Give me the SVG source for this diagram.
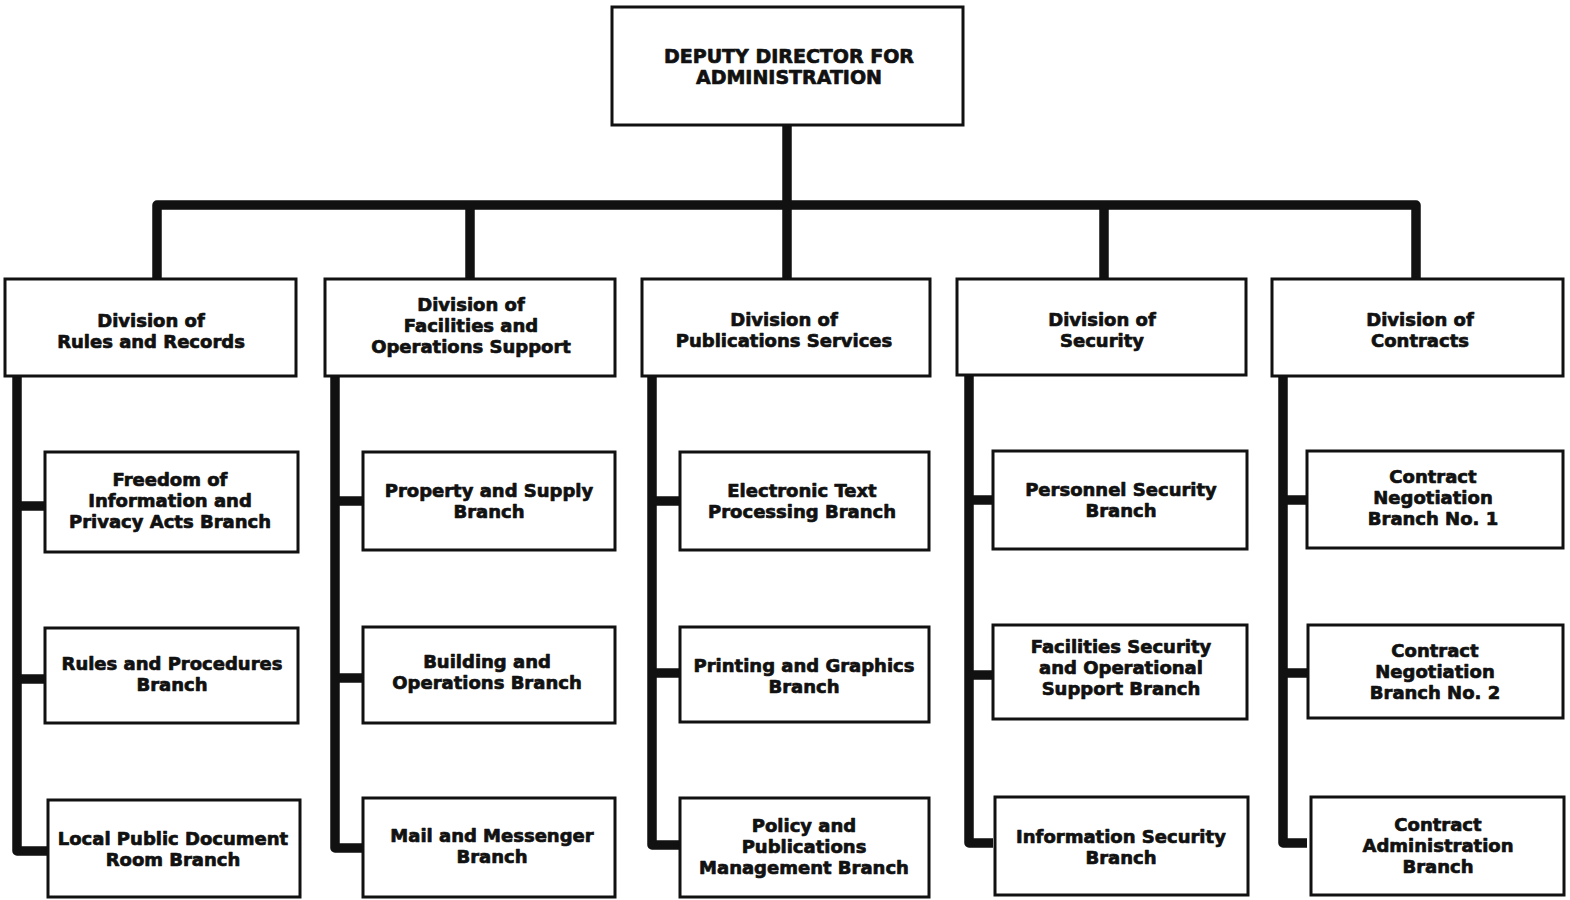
<svg xmlns="http://www.w3.org/2000/svg" width="1570" height="900" viewBox="0 0 1570 900">
  <style>
    .box { fill: #ffffff; stroke: #111111; stroke-width: 3; }
    .lbl { font-family: "DejaVu Sans", "Liberation Sans", sans-serif; font-weight: bold; font-size: 18px; fill: #111111; stroke: #111111; stroke-width: 0.7; stroke-linejoin: round; text-anchor: middle; }
    .top { font-size: 19px; }
    .conn { fill: none; stroke: #111111; stroke-width: 9.5; stroke-linejoin: round; stroke-linecap: butt; }
  </style>
  <rect width="1570" height="900" fill="#ffffff"/>

  <!-- connectors -->
  <g id="connectors" class="conn">
    <!-- head to division bar -->
    <path d="M787,125 V205"/>
    <path d="M157,279 V205 H1416 V279"/>
    <path d="M470,205 V279"/>
    <path d="M787,205 V279"/>
    <path d="M1104,205 V279"/>
    <!-- Rules and Records trunk -->
    <path d="M17,376 V851 H48"/>
    <path d="M17,506 H45"/>
    <path d="M17,679 H45"/>
    <!-- Facilities and Operations Support trunk -->
    <path d="M335,376 V848 H363"/>
    <path d="M335,501 H363"/>
    <path d="M335,678 H363"/>
    <!-- Publications Services trunk -->
    <path d="M652,376 V845 H680"/>
    <path d="M652,501 H680"/>
    <path d="M652,673 H680"/>
    <!-- Security trunk -->
    <path d="M969,375 V843 H993"/>
    <path d="M969,500 H993"/>
    <path d="M969,675 H993"/>
    <!-- Contracts trunk -->
    <path d="M1283,376 V843 H1307"/>
    <path d="M1283,500 H1307"/>
    <path d="M1283,673 H1307"/>
  </g>

  <!-- head -->
  <g id="deputy-director">
    <rect class="box" x="612" y="7" width="351" height="118"/>
    <text class="lbl top" x="789" y="63">DEPUTY DIRECTOR FOR</text>
    <text class="lbl top" x="789" y="84">ADMINISTRATION</text>
  </g>

  <!-- divisions -->
  <g id="div-rules-records">
    <rect class="box" x="5" y="279" width="291" height="97"/>
    <text class="lbl" x="151" y="327">Division of</text>
    <text class="lbl" x="151" y="348">Rules and Records</text>
  </g>
  <g id="div-facilities">
    <rect class="box" x="325" y="279" width="290" height="97"/>
    <text class="lbl" x="471" y="311">Division of</text>
    <text class="lbl" x="471" y="332">Facilities and</text>
    <text class="lbl" x="471" y="353">Operations Support</text>
  </g>
  <g id="div-publications">
    <rect class="box" x="642" y="279" width="288" height="97"/>
    <text class="lbl" x="784" y="326">Division of</text>
    <text class="lbl" x="784" y="347">Publications Services</text>
  </g>
  <g id="div-security">
    <rect class="box" x="957" y="279" width="289" height="96"/>
    <text class="lbl" x="1102" y="326">Division of</text>
    <text class="lbl" x="1102" y="347">Security</text>
  </g>
  <g id="div-contracts">
    <rect class="box" x="1272" y="279" width="291" height="97"/>
    <text class="lbl" x="1420" y="326">Division of</text>
    <text class="lbl" x="1420" y="347">Contracts</text>
  </g>

  <!-- Rules and Records branches -->
  <g id="br-foia">
    <rect class="box" x="45" y="452" width="253" height="100"/>
    <text class="lbl" x="170" y="486">Freedom of</text>
    <text class="lbl" x="170" y="507">Information and</text>
    <text class="lbl" x="170" y="528">Privacy Acts Branch</text>
  </g>
  <g id="br-rules-procedures">
    <rect class="box" x="45" y="628" width="253" height="95"/>
    <text class="lbl" x="172" y="670">Rules and Procedures</text>
    <text class="lbl" x="172" y="691">Branch</text>
  </g>
  <g id="br-lpdr">
    <rect class="box" x="48" y="800" width="252" height="97"/>
    <text class="lbl" x="173" y="845">Local Public Document</text>
    <text class="lbl" x="173" y="866">Room Branch</text>
  </g>

  <!-- Facilities and Operations Support branches -->
  <g id="br-property-supply">
    <rect class="box" x="363" y="452" width="252" height="98"/>
    <text class="lbl" x="489" y="497">Property and Supply</text>
    <text class="lbl" x="489" y="518">Branch</text>
  </g>
  <g id="br-building-operations">
    <rect class="box" x="363" y="627" width="252" height="96"/>
    <text class="lbl" x="487" y="668">Building and</text>
    <text class="lbl" x="487" y="689">Operations Branch</text>
  </g>
  <g id="br-mail-messenger">
    <rect class="box" x="363" y="798" width="252" height="99"/>
    <text class="lbl" x="492" y="842">Mail and Messenger</text>
    <text class="lbl" x="492" y="863">Branch</text>
  </g>

  <!-- Publications Services branches -->
  <g id="br-electronic-text">
    <rect class="box" x="680" y="452" width="249" height="98"/>
    <text class="lbl" x="802" y="497">Electronic Text</text>
    <text class="lbl" x="802" y="518">Processing Branch</text>
  </g>
  <g id="br-printing-graphics">
    <rect class="box" x="680" y="627" width="249" height="95"/>
    <text class="lbl" x="804" y="672">Printing and Graphics</text>
    <text class="lbl" x="804" y="693">Branch</text>
  </g>
  <g id="br-policy-publications">
    <rect class="box" x="680" y="798" width="249" height="99"/>
    <text class="lbl" x="804" y="832">Policy and</text>
    <text class="lbl" x="804" y="853">Publications</text>
    <text class="lbl" x="804" y="874">Management Branch</text>
  </g>

  <!-- Security branches -->
  <g id="br-personnel-security">
    <rect class="box" x="993" y="451" width="254" height="98"/>
    <text class="lbl" x="1121" y="496">Personnel Security</text>
    <text class="lbl" x="1121" y="517">Branch</text>
  </g>
  <g id="br-facilities-security">
    <rect class="box" x="993" y="625" width="254" height="94"/>
    <text class="lbl" x="1121" y="653">Facilities Security</text>
    <text class="lbl" x="1121" y="674">and Operational</text>
    <text class="lbl" x="1121" y="695">Support Branch</text>
  </g>
  <g id="br-information-security">
    <rect class="box" x="995" y="797" width="253" height="98"/>
    <text class="lbl" x="1121" y="843">Information Security</text>
    <text class="lbl" x="1121" y="864">Branch</text>
  </g>

  <!-- Contracts branches -->
  <g id="br-negotiation-1">
    <rect class="box" x="1307" y="451" width="256" height="97"/>
    <text class="lbl" x="1433" y="483">Contract</text>
    <text class="lbl" x="1433" y="504">Negotiation</text>
    <text class="lbl" x="1433" y="525">Branch No. 1</text>
  </g>
  <g id="br-negotiation-2">
    <rect class="box" x="1308" y="625" width="255" height="93"/>
    <text class="lbl" x="1435" y="657">Contract</text>
    <text class="lbl" x="1435" y="678">Negotiation</text>
    <text class="lbl" x="1435" y="699">Branch No. 2</text>
  </g>
  <g id="br-contract-admin">
    <rect class="box" x="1311" y="797" width="253" height="98"/>
    <text class="lbl" x="1438" y="831">Contract</text>
    <text class="lbl" x="1438" y="852">Administration</text>
    <text class="lbl" x="1438" y="873">Branch</text>
  </g>
</svg>
